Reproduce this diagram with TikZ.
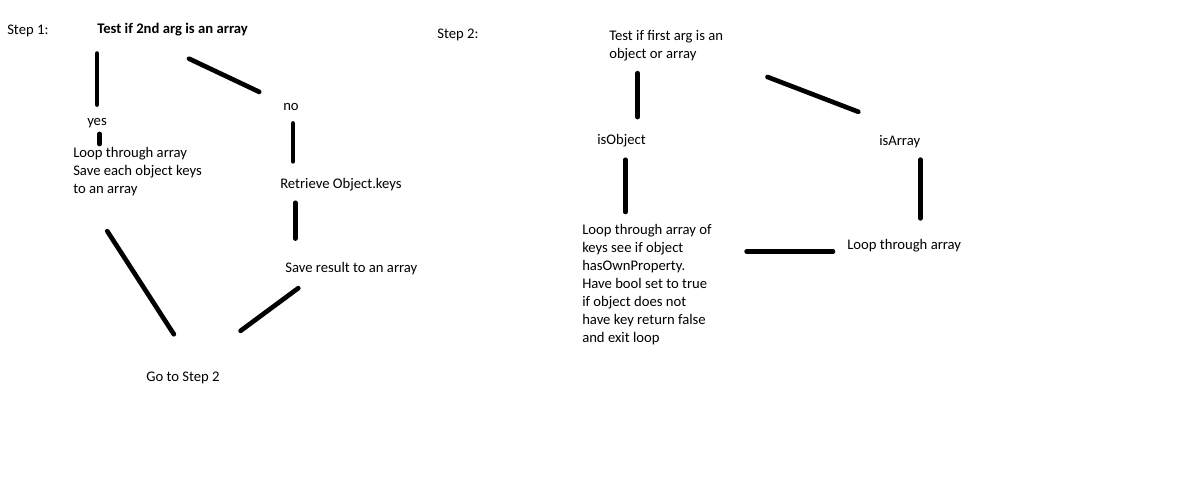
\documentclass[tikz,border=0pt]{standalone}
\usepackage{fontspec}
\setmainfont{Carlito}
\usetikzlibrary{calc}
\begin{document}
\begin{tikzpicture}[x=0.75pt,y=-0.75pt,
  every node/.style={inner sep=0pt,font=\fontsize{11}{13.5}\selectfont},
  txt/.style={anchor=base west},
  blk/.style={anchor=north west,align=left},
  stroke/.style={line width=3.5pt,line cap=round}]
\useasboundingbox (0,0) rectangle (1189,495);

% step 1
\node[txt] (step1) at (7,35) {Step 1:};
\node[txt,font=\fontsize{11}{13.5}\selectfont\bfseries] (title) at (97,33.5) {Test if 2nd arg is an array};
\node[txt] (yes) at (87,126) {yes};
\node[blk] (loop1) at (73,147) {Loop through array\\Save each object keys\\to an array};
\node[txt] (no) at (283,110.5) {no};
\node[txt] (retrieve) at (280,188.5) {Retrieve Object.keys};
\node[txt] (save) at (285,273) {Save result to an array};
\node[txt] (go) at (146,381) {Go to Step 2};

\draw[stroke,shorten <=13pt,shorten >=10.5pt] (title.south west -| yes) -- (yes.north);
\draw[stroke,shorten <=39.4pt,shorten >=19.7pt] ($(title.south west)!0.295!(title.south east)$) -- (no.north west);
\draw[stroke,shorten <=4pt,shorten >=2.2pt] ($(yes.south)+(2.5,0)$) -- ($(yes.south |- loop1.north)+(2.5,0)$);
\draw[stroke,shorten <=9.4pt,shorten >=12.5pt] ($(no.south)+(2,0)$) coordinate (n1) -- (n1 |- retrieve.north);
\draw[stroke,shorten <=8.6pt,shorten >=18pt] ($(retrieve.south west)!0.125!(retrieve.south east)$) coordinate (r1) -- (r1 |- save.north);
\draw[stroke,shorten <=31.3pt,shorten >=33pt] ($(loop1.south west)!0.09!(loop1.south east)$) -- ($(go.north west)!0.7!(go.north east)$);
\draw[stroke,shorten <=15.8pt,shorten >=51pt] ($(save.south west)!0.228!(save.south east)$) -- ($(go.north west)!0.54!(go.north east)$);

% step 2
\node[txt] (step2) at (437,39) {Step 2:};
\node[blk] (test2) at (609,30) {Test if first arg is an\\object or array};
\node[txt] (isobj) at (597,145) {isObject};
\node[txt] (isarr) at (879,146) {isArray};
\node[blk] (loop2) at (582,224) {Loop through array of\\keys see if object\\hasOwnProperty.\\Have bool set to true\\if object does not\\have key return false\\and exit loop};
\node[txt] (looparr) at (847,249.5) {Loop through array};

\draw[stroke,shorten <=9pt,shorten >=13.1pt] ($(test2.south west)!0.25!(test2.south east)$) coordinate (t1) -- (t1 |- isobj.north);
\draw[stroke,shorten <=33pt,shorten >=49.9pt] ($(test2.south east)+(3,0)$) -- (isarr.north east);
\draw[stroke,shorten <=9pt,shorten >=9pt] ($(isobj.south west)!0.58!(isobj.south east)$) coordinate (o1) -- (o1 |- loop2.north);
\draw[stroke,shorten <=8.25pt,shorten >=15.5pt] (isarr.south east) -- (isarr.south east |- looparr.north);
\draw[stroke,shorten <=10.5pt,shorten >=26pt] ($(looparr.base west)+(0,2)$) coordinate (a1) -- (loop2.east |- a1);
\end{tikzpicture}
\end{document}
